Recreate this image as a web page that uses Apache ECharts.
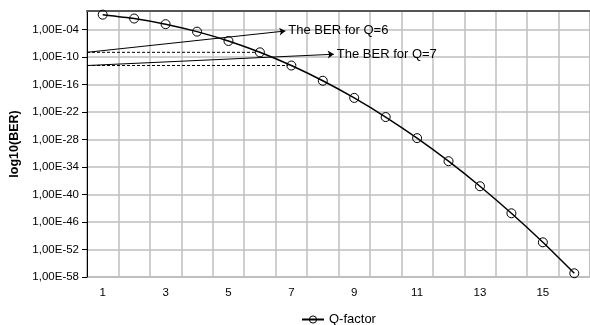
<!DOCTYPE html>
<html>
<head>
<meta charset="utf-8">
<script src="https://cdn.jsdelivr.net/npm/echarts@6/dist/echarts.min.js"></script>
<style>
  html, body { margin: 0; padding: 0; background: #fff; }
  #chart { width: 590px; height: 325px; }
</style>
</head>
<body>
<div id="chart"></div>
<script>
// Q-factor categories and log10 of the BER
const qFactor = ['1', '2', '3', '4', '5', '6', '7', '8', '9', '10', '11', '12', '13', '14', '15', '16'];
const logBer = [-0.80, -1.64, -2.87, -4.50, -6.54, -9.01, -11.89, -15.21, -18.95, -23.12, -27.72, -32.75, -38.21, -44.11, -50.44, -57.19];

// annotations: which Q they point at, and where the arrow tip sits (Q units, log10 units)
const annotText = ['The BER for Q=6', 'The BER for Q=7'];
const annotQ = [6, 7];
const annotTip = [[6.81, -4.36], [8.35, -9.43]];
const axisStartQ = 0.5;

const fmtExp = v => {
  const a = Math.abs(Math.round(v));
  return '1,00E' + (v < 0 ? '-' : '+') + (a < 10 ? '0' : '') + a;
};

const chart = echarts.init(document.getElementById('chart'));

const annotSeries = annotQ.map((q, i) => {
  const y = logBer[q - 1];
  return {
    name: 'annot' + i,
    type: 'line',
    xAxisIndex: 1,
    yAxisIndex: 0,
    symbol: 'none',
    silent: true,
    lineStyle: { color: '#000', width: 1, type: [3, 2] },
    data: [[axisStartQ, y], [q - 0.1, y]],
    markLine: {
      silent: true,
      symbol: ['none', 'arrow'],
      symbolSize: 6,
      lineStyle: { color: '#000', width: 1, type: 'solid' },
      label: {
        show: true,
        position: 'end',
        distance: 3,
        formatter: annotText[i],
        color: '#000',
        fontFamily: 'Liberation Sans, Arial, sans-serif',
        fontSize: 13
      },
      data: [[{ coord: [axisStartQ, y] }, { coord: annotTip[i] }]]
    }
  };
});

const option = {
  animation: false,
  backgroundColor: '#fff',
  textStyle: { fontFamily: 'Liberation Sans, Arial, sans-serif' },
  grid: {
    left: 84,
    top: 11,
    width: 509,
    height: 266,
    show: true,
    borderColor: '#808080',
    borderWidth: 1
  },
  legend: {
    data: ['Q-factor'],
    left: 296,
    top: 308,
    itemWidth: 22,
    itemHeight: 9,
    itemGap: 5,
    itemStyle: { borderWidth: 1 },
    textStyle: { color: '#000', fontSize: 13 }
  },
  xAxis: [
    {
      type: 'category',
      data: qFactor,
      boundaryGap: true,
      axisLine: { lineStyle: { color: '#555', width: 2 } },
      axisTick: { interval: 0, length: 4, lineStyle: { color: '#555' } },
      axisLabel: { interval: 1, color: '#000', fontSize: 11.5, margin: 10 },
      splitLine: { show: true, interval: 0, lineStyle: { color: '#bfbfbf', width: 1.5 } }
    },
    {
      type: 'value',
      min: 0.5,
      max: 16.5,
      show: false
    }
  ],
  yAxis: {
    type: 'value',
    min: -58,
    max: 0,
    interval: 6,
    name: 'log10(BER)',
    nameLocation: 'middle',
    nameGap: 66,
    nameRotate: 90,
    nameTextStyle: { color: '#000', fontWeight: 'bold', fontSize: 12.5 },
    axisLine: { show: true, lineStyle: { color: '#000', width: 1 } },
    axisTick: { show: true, length: 5, lineStyle: { color: '#000' } },
    axisLabel: {
      color: '#000',
      fontSize: 11.5,
      margin: 8,
      showMaxLabel: false,
      formatter: fmtExp
    },
    splitLine: { lineStyle: { color: '#bfbfbf', width: 1.5 } }
  },
  series: [
    {
      name: 'Q-factor',
      type: 'line',
      data: logBer,
      smooth: 0.2,
      symbol: 'circle',
      symbolSize: 9,
      lineStyle: { color: '#000', width: 1.5 },
      itemStyle: { color: 'none', borderColor: '#000', borderWidth: 1 }
    },
    ...annotSeries
  ]
};

chart.setOption(option);
</script>
</body>
</html>
